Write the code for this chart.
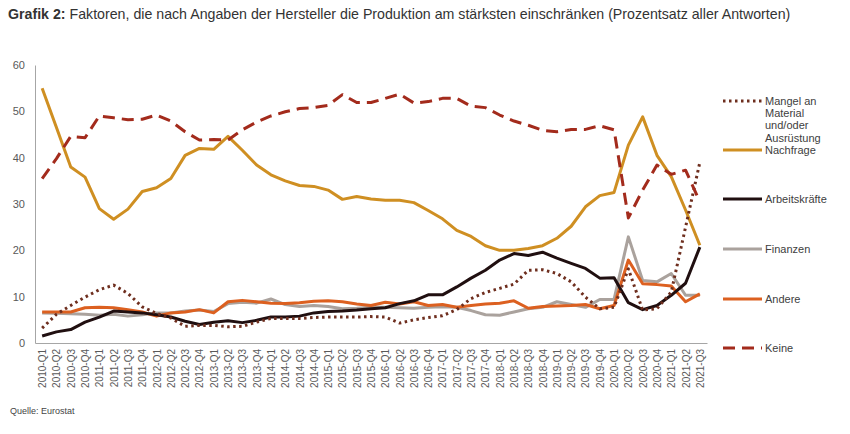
<!DOCTYPE html>
<html>
<head>
<meta charset="utf-8">
<script src="https://cdn.jsdelivr.net/npm/d3@7"></script>
<style>
  body { margin: 0; background: #fff; }
  text { font-family: 'Liberation Sans', Arial, sans-serif; }
</style>
</head>
<body>
<div id="chart"></div>
<script>
const quarters = [
  '2010-Q1', '2010-Q2', '2010-Q3', '2010-Q4', '2011-Q1', '2011-Q2', '2011-Q3', '2011-Q4',
  '2012-Q1', '2012-Q2', '2012-Q3', '2012-Q4', '2013-Q1', '2013-Q2', '2013-Q3', '2013-Q4',
  '2014-Q1', '2014-Q2', '2014-Q3', '2014-Q4', '2015-Q1', '2015-Q2', '2015-Q3', '2015-Q4',
  '2016-Q1', '2016-Q2', '2016-Q3', '2016-Q4', '2017-Q1', '2017-Q2', '2017-Q3', '2017-Q4',
  '2018-Q1', '2018-Q2', '2018-Q3', '2018-Q4', '2019-Q1', '2019-Q2', '2019-Q3', '2019-Q4',
  '2020-Q1', '2020-Q2', '2020-Q3', '2020-Q4', '2021-Q1', '2021-Q2', '2021-Q3'
]

const mangel = [3.2, 6.2, 8.1, 9.9, 11.5, 12.5, 10.7, 7.8, 6.4, 5.4, 3.6, 3.8, 3.8, 3.5, 3.6, 4.5,
  5.3, 5.3, 5.3, 5.5, 5.6, 5.6, 5.6, 5.7, 5.6, 4.3, 5.0, 5.5, 5.9, 7.2, 9.6, 10.9,
  11.8, 12.7, 15.7, 15.8, 15.0, 13.2, 9.9, 7.4, 7.7, 16.0, 7.1, 7.4, 11.0, 25.0, 39.0]

const nachfrage = [55, 46.5, 38, 35.8, 29, 26.7, 28.9, 32.7, 33.5, 35.5, 40.5, 42, 41.8, 44.6, 41.6, 38.4,
  36.3, 35, 34, 33.8, 33, 31, 31.6, 31.1, 30.8, 30.8, 30.3, 28.6, 26.8, 24.3, 23, 21,
  20, 20, 20.4, 21, 22.6, 25.2, 29.4, 31.8, 32.5, 42.7, 48.8, 40.5, 35.9, 28.7, 21.1]

const arbeitskraefte = [1.5, 2.4, 2.9, 4.5, 5.6, 6.9, 6.7, 6.5, 6.1, 5.6, 4.7, 4.0, 4.5, 4.8, 4.4, 4.9,
  5.6, 5.6, 5.8, 6.5, 6.8, 6.9, 7.1, 7.4, 7.6, 8.5, 9.1, 10.4, 10.4, 12.1, 14.0, 15.7,
  17.9, 19.3, 18.9, 19.6, 18.3, 17.2, 16.1, 14.0, 14.1, 8.7, 7.2, 8.1, 10.3, 12.9, 20.7]

const finanzen = [6.5, 6.4, 6.3, 6.2, 6.0, 6.2, 5.8, 6.1, 6.5, 6.5, 6.9, 7.1, 6.8, 8.5, 8.8, 8.6,
  9.5, 8.3, 7.9, 8.1, 7.9, 7.4, 7.5, 7.7, 7.7, 7.6, 7.5, 7.7, 7.8, 7.7, 7.0, 6.1,
  6.0, 6.7, 7.4, 7.7, 8.9, 8.3, 7.7, 9.4, 9.4, 22.9, 13.5, 13.2, 15.0, 10.3, 10.3]

const andere = [6.7, 6.7, 6.7, 7.6, 7.7, 7.6, 7.2, 6.7, 5.8, 6.5, 6.7, 7.2, 6.5, 8.9, 9.2, 8.9,
  8.6, 8.5, 8.7, 9.0, 9.1, 8.9, 8.4, 8.1, 8.8, 8.4, 8.9, 8.1, 8.3, 7.7, 8.1, 8.4,
  8.6, 9.1, 7.5, 7.9, 8.0, 8.1, 8.3, 7.4, 8.1, 17.9, 12.8, 12.6, 12.3, 8.9, 10.6]

const keine = [35.5, 39.8, 44.6, 44.3, 49, 48.6, 48.2, 48.3, 49.2, 47.9, 45.6, 43.8, 43.9, 43.8, 46, 47.7,
  49, 49.9, 50.6, 50.8, 51.3, 53.6, 51.9, 51.9, 52.8, 53.7, 51.8, 52.1, 52.8, 52.8, 51.1, 50.8,
  49.2, 47.9, 47.0, 45.9, 45.6, 46.1, 46.1, 46.9, 46.0, 27.0, 33.0, 38.4, 36.4, 37.3, 30.5]

const yTicks = [0, 10, 20, 30, 40, 50, 60]

// series: drawing order (bottom to top) and legend rows
const series = [
  { name: 'Finanzen', values: finanzen, color: '#aaa29d', dash: null, legendY: 249 },
  { name: 'Andere', values: andere, color: '#dc6020', dash: null, legendY: 299 },
  { name: 'Arbeitskräfte', values: arbeitskraefte, color: '#200f10', dash: null, legendY: 199 },
  { name: 'Nachfrage', values: nachfrage, color: '#cf8f22', dash: null, legendY: 150 },
  { name: 'Mangel an|Material|und/oder|Ausrüstung', values: mangel, color: '#6e2e1e', dash: '2.5,3.5', legendY: 101 },
  { name: 'Keine', values: keine, color: '#a32b1c', dash: '12,7', legendY: 348 }
]

const margin = { top: 65, right: 143, bottom: 91, left: 35 }
const width = 850 - margin.left - margin.right
const height = 434 - margin.top - margin.bottom

const root = d3
  .select('#chart')
  .append('svg')
  .attr('width', 850)
  .attr('height', 434)

// title
const title = root
  .append('text')
  .attr('x', 8)
  .attr('y', 19)
  .attr('font-size', 14.2)
  .attr('fill', '#333')
title.append('tspan').attr('font-weight', 'bold').text('Grafik 2:')
title.append('tspan').text(' Faktoren, die nach Angaben der Hersteller die Produktion am stärksten einschränken (Prozentsatz aller Antworten)')

root
  .append('text')
  .attr('x', 10)
  .attr('y', 414)
  .attr('font-size', 9)
  .attr('fill', '#444')
  .text('Quelle: Eurostat')

const svg = root
  .append('g')
  .attr('transform', 'translate(' + margin.left + ',' + margin.top + ')')

const xPositionScale = d3
  .scalePoint()
  .domain(quarters)
  .range([0, width])
  .padding(0.5)

const yPositionScale = d3
  .scaleLinear()
  .domain([0, 60])
  .range([height, 0])

// axes
const yAxis = d3
  .axisLeft(yPositionScale)
  .tickValues(yTicks)
  .tickSize(0)
  .tickPadding(10)

svg
  .append('g')
  .attr('class', 'axis y-axis')
  .call(yAxis)

const xAxis = d3
  .axisBottom(xPositionScale)
  .tickSize(0)

svg
  .append('g')
  .attr('class', 'axis x-axis')
  .attr('transform', 'translate(0,' + height + ')')
  .call(xAxis)
  .selectAll('text')
  .attr('transform', 'rotate(-90)')
  .attr('text-anchor', 'end')
  .attr('x', -6)
  .attr('y', 0)
  .attr('dy', '0.35em')
  .attr('font-size', 10)

svg.selectAll('.axis .domain').attr('stroke', '#a6a6a6').attr('stroke-width', 1)
svg.selectAll('.axis text').attr('fill', '#595959').style('font-family', "'Liberation Sans', Arial, sans-serif")
svg.selectAll('.y-axis text').attr('font-size', 11)

// lines
const line = d3
  .line()
  .x((d, i) => xPositionScale(quarters[i]))
  .y(d => yPositionScale(d))

svg
  .selectAll('.series')
  .data(series)
  .enter()
  .append('path')
  .attr('class', 'series')
  .attr('d', d => line(d.values))
  .attr('fill', 'none')
  .attr('stroke', d => d.color)
  .attr('stroke-width', 3)
  .attr('stroke-dasharray', d => d.dash)
  .attr('stroke-linejoin', 'round')

// legend
const legend = root
  .append('g')
  .selectAll('g')
  .data(series)
  .enter()
  .append('g')
  .attr('transform', d => 'translate(723,' + d.legendY + ')')

legend
  .append('line')
  .attr('x1', 0)
  .attr('x2', 39)
  .attr('stroke', d => d.color)
  .attr('stroke-width', 3)
  .attr('stroke-dasharray', d => d.dash)

legend
  .append('text')
  .attr('x', 42)
  .attr('font-size', 11)
  .attr('fill', '#404040')
  .selectAll('tspan')
  .data(d => d.name.split('|'))
  .enter()
  .append('tspan')
  .attr('x', 42)
  .attr('y', (d, i) => i * 12.3)
  .attr('dy', '0.35em')
  .text(d => d)
</script>
</body>
</html>
